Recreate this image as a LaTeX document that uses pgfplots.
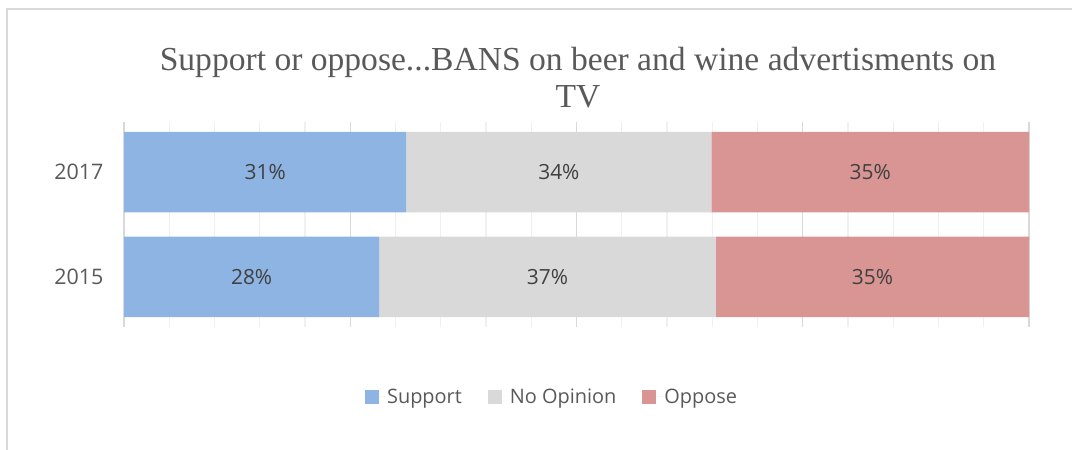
\documentclass[border=0pt]{standalone}
\usepackage{pgfplots}
\pgfplotsset{compat=1.18}
\usepackage{fontspec}
\setmainfont{Open Sans}
\newfontfamily\titlefont{Liberation Serif}
\definecolor{supp}{RGB}{142,180,227}
\definecolor{noop}{RGB}{217,217,217}
\definecolor{opp}{RGB}{217,149,148}
\definecolor{txt}{RGB}{89,89,89}
\definecolor{lbl}{RGB}{64,64,64}
\definecolor{mingrid}{RGB}{240,240,240}
\begin{document}
\begin{tikzpicture}[x=1bp,y=1bp]
\useasboundingbox (0,0) rectangle (1072,450);
\draw[line width=2bp, color=noop] (7,0) -- (7,441) -- (1072,441);
\node[font=\titlefont\fontsize{33.7}{37}\selectfont, color=txt, align=center] at (578,372) {Support or oppose...BANS on beer and wine advertisments on\\TV};
\begin{axis}[at={(124bp,123bp)}, anchor=south west, scale only axis,
  width=905bp, height=205bp,
  xbar stacked, bar width=0.77,
  xmin=0, xmax=100, ymin=-0.48, ymax=1.48,
  ytick={0,1}, yticklabels={2015,2017},
  xtick={0,25,50,75,100}, minor xtick={5,10,15,20,30,35,40,45,55,60,65,70,80,85,90,95},
  xticklabels={},
  xmajorgrids, xminorgrids,
  major grid style={draw=noop, line width=1.2bp},
  minor grid style={draw=mingrid, line width=1.2bp},
  axis line style={draw=none},
  major tick length=0pt, minor tick length=0pt,
  yticklabel style={font=\fontsize{21.5}{24}\selectfont, color=txt, xshift=-17bp},
  legend columns=3,
  legend style={at={(0.473,-0.341)}, anchor=center, draw=none, fill=none,
    font=\fontsize{20}{24}\selectfont, text=txt,
    /tikz/every even column/.append style={column sep=24bp},
    inner sep=0pt},
  legend image code/.code={\path (0bp,0bp) -- (20bp,0bp); \fill[#1] (0bp,-7bp) rectangle (14bp,7bp);},
]
\addplot[fill=supp, draw=none] coordinates {(28.2,0) (31.2,1)};
\addplot[fill=noop, draw=none] coordinates {(37.2,0) (33.7,1)};
\addplot[fill=opp, draw=none] coordinates {(34.6,0) (35.1,1)};
\legend{Support, No Opinion, Oppose}
\end{axis}
\begin{axis}[at={(124bp,123bp)}, anchor=south west, scale only axis,
  width=905bp, height=205bp, hide axis,
  xmin=0, xmax=100, ymin=-0.48, ymax=1.48]
\addplot[draw=none, mark=none, nodes near coords, point meta=explicit symbolic,
  nodes near coords align=center,
  every node near coord/.append style={font=\fontsize{21}{24}\selectfont, text=lbl, anchor=center}]
  coordinates {(14.1,0) [28\%] (46.8,0) [37\%] (82.7,0) [35\%]
               (15.6,1) [31\%] (48.05,1) [34\%] (82.45,1) [35\%]};
\end{axis}
\end{tikzpicture}
\end{document}
